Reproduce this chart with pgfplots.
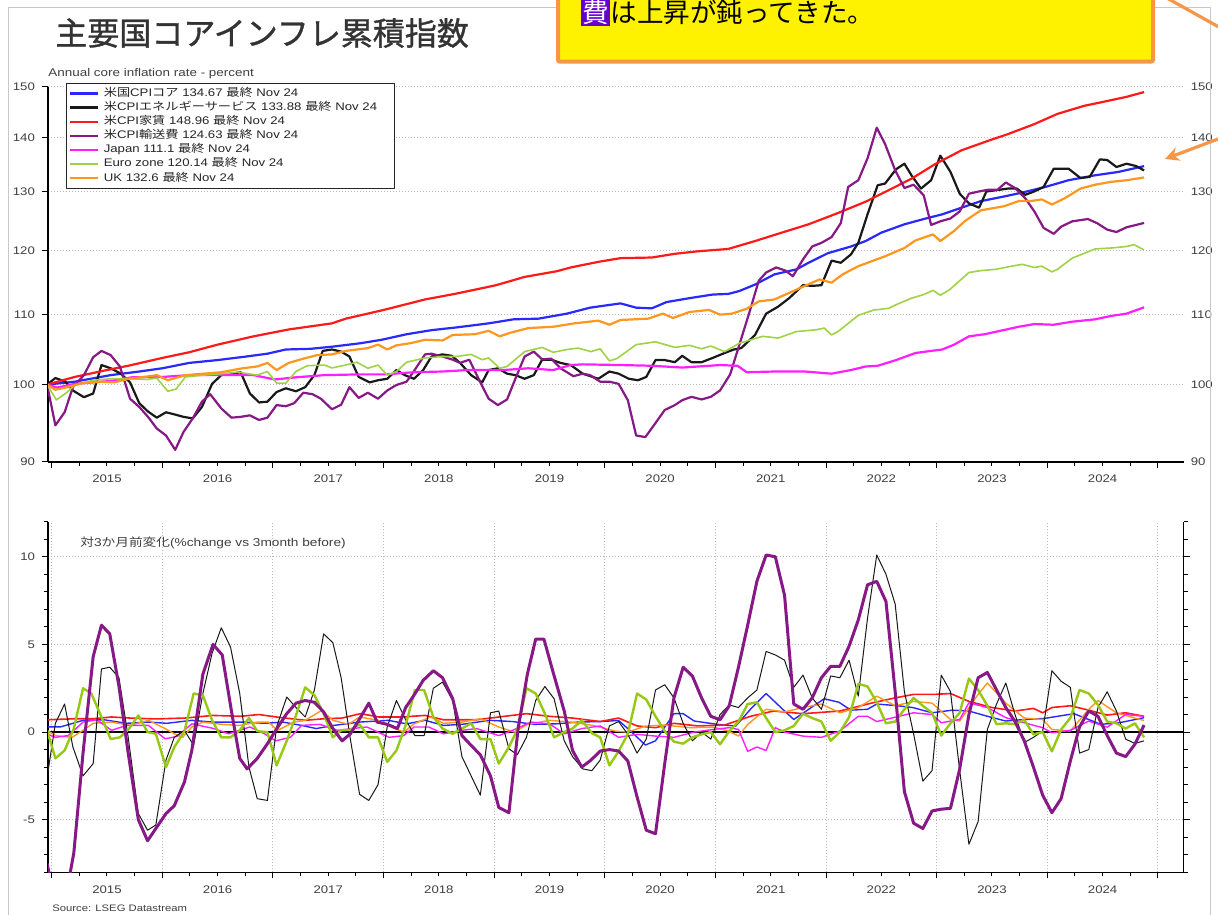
\documentclass[border=0pt]{standalone}
\usepackage{pgfplots}
\pgfplotsset{compat=1.18}
\usepackage{graphicx}
\usepackage{fontspec}
\setmainfont{Liberation Sans}
\newfontfamily\jp{Noto Sans CJK JP}
\newfontfamily\jptitle[FakeBold=1]{Noto Sans CJK JP}
\usetikzlibrary{arrows.meta}
\newcommand\sx[1]{\scalebox{1.2}[1]{#1}}
\definecolor{cBlue}{RGB}{40,40,255}
\definecolor{cBlack}{RGB}{25,25,25}
\definecolor{cRed}{RGB}{255,25,25}
\definecolor{cPurple}{RGB}{135,25,135}
\definecolor{cMag}{RGB}{255,30,255}
\definecolor{cGreen}{RGB}{160,210,70}
\definecolor{cGreenB}{RGB}{150,200,20}
\definecolor{cOrange}{RGB}{255,150,30}
\definecolor{cTxt}{RGB}{64,64,64}
\definecolor{cBoxBorder}{RGB}{247,150,70}
\definecolor{cHL}{RGB}{102,0,204}
\definecolor{cFrame}{RGB}{200,200,200}
\pgfplotsset{
  base/.style={
    scale only axis, width=567.85pt,
    xmin=0.1, xmax=123.3,
    xtick={0.5,12.5,24.5,36.5,48.5,60.5,72.5,84.5,96.5,108.5,120.5},
    xticklabels={\sx{2015},\sx{2016},\sx{2017},\sx{2018},\sx{2019},\sx{2020},\sx{2021},\sx{2022},\sx{2023},\sx{2024}},
    x tick label as interval,
    minor x tick num=3,
    tick align=outside,
    major tick length=3pt, minor tick length=2pt,
    tick style={black, line width=0.5pt},
    axis line style={black, line width=0.7pt},
    tick label style={font=\fontsize{5.5}{6}\selectfont, text=cTxt},
    major grid style={gray!55, dash pattern=on 0.5pt off 1pt, line width=0.5pt},
    line join=round,
  },
}
\begin{document}
\begin{tikzpicture}
\useasboundingbox (0,0) rectangle (609pt,-457pt);
\clip (0,0) rectangle (609pt,-457pt);
\fill[white] (0,0) rectangle (609pt,-457pt);

% ---------------- top chart ----------------
\begin{axis}[base,
  at={(24pt,-231pt)}, anchor=south west, height=187.5pt,
  ymode=log, ymin=90, ymax=150,
  axis x line*=bottom, axis y line*=left,
  ytick={90,100,110,120,130,140,150},
  yticklabels={\sx{90},\sx{100},\sx{110},\sx{120},\sx{130},\sx{140},\sx{150}},
  ymajorgrids,
  legend image code/.code={\draw[#1] (0pt,0pt) -- (13.8pt,0pt);},
  legend cell align=left,
  legend style={at={(0.01585,1.0115)}, anchor=north west, draw=black!85, line width=0.6pt,
    fill=white, inner xsep=1.35pt, inner ysep=1.6pt, column sep=1.35pt, row sep=0pt,
    font=\fontsize{5.5}{6}\selectfont,
    nodes={inner xsep=1pt, inner ysep=0.825pt, text height=4.2pt, text depth=1.2pt, text=black!85}},
]
\addplot[cBlue, line width=1.1pt] coordinates {(0,100) (3,100.4) (6.9,101.3) (10,101.8) (12.5,102.25) (15.4,103.0) (18.5,103.4) (21.6,103.9) (23.9,104.3) (25.9,104.9) (28.6,105.0) (30.9,105.3) (34,105.8) (36.3,106.3) (39,107.1) (41.7,107.7) (44.4,108.1) (47.9,108.7) (50.6,109.3) (53.3,109.4) (56.4,110.15) (58.9,111.05) (62.2,111.7) (63.9,111.05) (65.6,110.95) (67.2,111.9) (69.7,112.5) (72.2,113.05) (73.9,113.15) (75.1,113.6) (76.8,114.6) (78.9,116.2) (81.3,117.0) (82.6,118.05) (84.7,119.6) (87.2,120.7) (88.8,121.6) (90.5,123.0) (93,124.4) (95.1,125.3) (97.1,126.1) (99.2,127.25) (101.3,128.4) (103.8,129.2) (105.8,129.9) (108.3,130.9) (110.8,132.1) (113.7,133.0) (116.2,133.6) (119,134.67)};
\addlegendentry{\makebox[143pt][l]{\sx{{\jp 米国}CPI{\jp コア} 134.67 {\jp 最終} Nov 24}}}
\addplot[cBlack, line width=1.1pt] coordinates {(0,100) (0.9,100.9) (2,100.4) (2.8,99.2) (4,98.3) (5,98.8) (5.9,102.7) (6.9,102.25) (8,101.5) (9,100.3) (10,97.5) (10.95,96.4) (11.9,95.6) (12.9,96.3) (13.9,96.0) (14.8,95.7) (15.8,95.5) (16.8,97.0) (17.9,100.1) (18.9,101.3) (20,101.5) (21,101.7) (22,98.8) (23,97.6) (23.9,97.7) (24.9,99.0) (25.9,99.5) (27,99.1) (28,99.65) (29,101.3) (29.9,104.7) (30.9,104.9) (31.9,104.6) (32.8,103.9) (33.8,101.05) (35,100.3) (35.9,100.6) (36.9,100.8) (37.9,102.0) (38.8,101.3) (39.8,100.8) (40.8,102.0) (41.7,103.9) (42.9,104.2) (43.9,104.0) (44.8,103.0) (46,101.3) (47.2,100.3) (47.9,102.0) (48.9,102.25) (49.9,101.5) (50.8,101.3) (51.8,100.8) (52.8,101.3) (53.7,103.45) (54.7,103.45) (55.7,103.0) (56.8,102.7) (58.1,101.5) (59.8,100.8) (61,101.8) (62,101.5) (63.1,100.8) (64.1,100.6) (65,101.05) (66,103.4) (67,103.4) (68.1,103.1) (68.9,104.0) (69.9,103.1) (71,103.1) (72.2,103.7) (73.5,104.4) (74.5,104.9) (75.3,105.1) (76.8,107.0) (78,110.15) (79.3,111.2) (80.5,112.5) (82,114.5) (83,114.4) (84,114.5) (85.1,118.4) (86.1,118.05) (87.2,119.4) (88,121.3) (89,126.1) (90.1,131.2) (90.9,131.5) (92.1,134.1) (93,135.1) (93.8,132.9) (94.8,130.6) (95.9,132.1) (96.9,136.6) (98,133.6) (99,129.7) (100,128.0) (101.1,127.25) (101.9,130.1) (102.9,130.3) (104.2,130.6) (105.2,130.6) (106.1,129.5) (107.1,130.1) (108.1,130.9) (109.2,134.2) (110.8,134.2) (112.1,132.5) (113.1,132.7) (114.2,135.9) (115,135.8) (116,134.5) (117.1,135.1) (118.1,134.7) (119,133.88)};
\addlegendentry{\sx{{\jp 米}CPI{\jp エネルギーサービス} 133.88 {\jp 最終} Nov 24}}
\addplot[cRed, line width=1.1pt] coordinates {(0,100) (3,101.05) (6.1,101.9) (8.8,102.6) (12.5,103.7) (15.4,104.5) (18.5,105.6) (22.4,106.8) (26.2,107.8) (30.9,108.7) (32.4,109.4) (36.5,110.7) (41,112.3) (44.4,113.2) (48.7,114.5) (51.8,115.8) (55.3,116.7) (56.8,117.3) (59.8,118.2) (62.2,118.8) (65.6,118.9) (68.1,119.5) (70.5,119.9) (73.9,120.3) (76.8,121.6) (79.7,123.0) (82.6,124.4) (85.9,126.4) (88.8,128.3) (90.9,130.0) (93.8,132.4) (96.3,135.0) (99.2,137.6) (102.1,139.4) (104.2,140.65) (107.1,142.6) (109.6,144.6) (112.5,146.2) (114.6,147.0) (117.1,148.0) (119,148.96)};
\addlegendentry{\sx{{\jp 米}CPI{\jp 家賃} 148.96 {\jp 最終} Nov 24}}
\addplot[cPurple, line width=1.1pt] coordinates {(0,100) (0.9,94.6) (1.9,96.3) (2.8,99.65) (4,101.3) (5,103.8) (5.9,104.7) (6.9,104.1) (7.9,102.5) (9,98.1) (10,97.0) (10.95,95.7) (11.9,94.2) (12.9,93.3) (13.9,91.5) (14.8,93.75) (15.8,95.5) (16.8,97.7) (17.7,98.7) (18.9,96.8) (20,95.6) (21,95.7) (22,95.9) (23,95.3) (23.9,95.6) (24.9,97.25) (25.9,97.1) (26.8,97.5) (27.8,98.9) (28.8,98.7) (29.7,98.1) (30.9,96.7) (31.9,97.3) (32.8,99.65) (33.8,98.2) (34.8,98.9) (35.9,98.1) (36.9,99.2) (37.9,99.95) (39,100.4) (40,102.25) (41,104.2) (41.7,104.3) (42.9,103.9) (44,103.45) (44.8,103.0) (45.8,103.45) (47,100.3) (47.9,98.1) (48.9,97.25) (49.9,98.0) (50.8,100.8) (51.8,103.9) (52.8,104.6) (53.7,103.5) (54.7,103.6) (55.7,102.25) (57.1,101.15) (58.1,101.5) (58.9,101.3) (60,100.4) (61,100.4) (62,100.1) (63,97.9) (63.9,93.3) (64.9,93.1) (66,94.9) (67,96.6) (68.1,97.25) (68.9,97.9) (69.9,98.35) (71,98.0) (72,98.35) (73,99.2) (74.1,101.4) (75.1,105.6) (76.2,110.4) (77.2,115.2) (78,116.5) (79.1,117.3) (80.1,116.8) (80.9,115.9) (82,118.6) (83,120.7) (84,121.3) (85.1,122.25) (86.1,124.6) (86.9,130.9) (88,132.1) (89,136.1) (90,141.9) (90.9,138.8) (92,133.9) (93,130.7) (94,131.3) (95.1,129.4) (95.9,124.3) (96.9,124.9) (98,125.4) (99,126.6) (100,129.7) (101.1,130.1) (102.1,130.4) (103.1,130.4) (104,131.7) (105,130.7) (106.1,128.9) (107.1,126.6) (108.1,123.8) (109.2,122.8) (110,124.0) (111.2,124.9) (112.9,125.3) (113.9,124.6) (115,123.5) (116,123.1) (117.1,123.9) (119,124.63)};
\addlegendentry{\sx{{\jp 米}CPI{\jp 輸送費} 124.63 {\jp 最終} Nov 24}}
\addplot[cMag, line width=1.1pt] coordinates {(0,100) (1.1,99.6) (3,100.1) (5,100.3) (6.9,100.5) (9.2,101.0) (12.5,101.05) (15.4,101.3) (18.5,101.3) (22.4,101.3) (24.7,100.7) (27,101.0) (30.1,101.3) (34,101.4) (36.7,101.4) (39.8,101.7) (42.9,101.8) (45.6,102.0) (49.5,102.0) (52.2,102.25) (54.9,102.0) (56.8,102.7) (58.1,102.8) (62.2,102.7) (65.6,102.6) (68.9,102.35) (73,102.7) (74.9,102.6) (75.9,101.7) (78.9,101.8) (82.2,101.8) (85.1,101.5) (87.2,102.0) (88.8,102.5) (90.1,102.6) (92.1,103.4) (94.2,104.4) (95.9,104.7) (97.1,104.9) (98.4,105.6) (100,106.8) (101.7,107.1) (103.4,107.6) (105.4,108.2) (107.1,108.6) (109.2,108.5) (111.2,108.95) (113.7,109.3) (115.4,109.8) (117.1,110.15) (119,111.1)};
\addlegendentry{\sx{Japan 111.1 {\jp 最終} Nov 24}}
\addplot[cGreen, line width=0.8pt] coordinates {(0,100) (1,97.95) (2,98.8) (3,99.9) (5,100.6) (6.9,100.8) (8.8,100.8) (10.8,100.7) (11.9,100.9) (13.1,99.1) (14,99.4) (15,101.05) (17,101.3) (18.9,101.5) (20.8,101.7) (22.8,101.3) (23.9,101.8) (24.9,100.2) (25.9,100.2) (27,101.8) (28.2,102.6) (30.1,102.7) (30.9,102.3) (32.4,102.7) (33.6,103.1) (34.8,102.25) (35.9,102.7) (36.9,101.3) (37.9,101.8) (39,103.1) (41,103.7) (42.9,103.9) (44.4,103.9) (46,104.2) (47.2,103.45) (47.9,103.7) (49.1,102.25) (49.9,102.5) (51.8,104.6) (53.7,105.2) (54.9,104.5) (56.4,104.9) (57.6,105.1) (59,104.6) (60,105.0) (61,103.3) (61.8,103.6) (63.9,105.6) (66,106.0) (68.1,105.2) (69.7,105.5) (71,105.0) (72,105.4) (73.5,104.6) (75.1,105.8) (77.6,106.8) (79.3,106.55) (81.3,107.5) (83.4,107.75) (84.3,108.0) (85.1,107.0) (85.9,107.6) (88,109.9) (89.7,110.7) (91.3,110.95) (92.1,111.5) (93.8,112.5) (95.1,113.05) (96.1,113.7) (96.9,112.95) (97.9,113.8) (100,116.5) (101.3,116.8) (102.9,117.0) (104.6,117.5) (105.8,117.8) (107.1,117.3) (107.9,117.5) (109,116.6) (109.6,117.0) (111.2,118.8) (113.7,120.3) (115.4,120.45) (117.1,120.7) (117.9,121.0) (119,120.14)};
\addlegendentry{\sx{Euro zone 120.14 {\jp 最終} Nov 24}}
\addplot[cOrange, line width=1.1pt] coordinates {(0,100) (0.9,99.3) (2.2,99.65) (3.8,100.2) (5.7,100.4) (7.3,100.3) (8.8,100.8) (10.8,101.1) (11.9,101.3) (13.1,100.6) (15,101.3) (17,101.5) (18.9,101.7) (21.2,102.25) (22.8,102.5) (23.9,103.0) (24.9,102.0) (26.2,103.0) (27.8,103.6) (29.3,104.1) (30.9,104.2) (32.4,104.7) (34.8,105.1) (35.9,105.6) (36.9,104.9) (37.9,105.5) (39.4,105.8) (41,106.3) (42.9,106.2) (44,107.0) (46.4,107.1) (47.9,107.6) (49.1,106.8) (50.2,107.3) (52.2,108.0) (54.9,108.2) (57.2,108.7) (59.8,109.1) (61,108.5) (62.2,109.2) (65.2,109.4) (66.8,110.15) (67.9,109.5) (69.7,110.4) (71.8,110.7) (73,110.0) (74.3,110.15) (75.9,110.9) (77.2,112.0) (78.9,112.3) (80.5,113.3) (82.2,114.4) (83.8,115.4) (85.1,114.9) (86.3,116.2) (88,117.5) (90.9,119.1) (93,120.45) (94.2,121.7) (96.1,122.7) (96.9,121.6) (98.4,123.3) (99.6,125.0) (101.3,126.8) (103.8,127.5) (105.4,128.4) (106.7,128.4) (107.9,128.7) (109,127.8) (110.4,128.9) (112.1,130.6) (113.7,131.3) (115.4,131.8) (117.1,132.1) (119,132.6)};
\addlegendentry{\sx{UK 132.6 {\jp 最終} Nov 24}}
\end{axis}

% right-hand labels of the top chart
\begin{axis}[
  at={(24pt,-231pt)}, anchor=south west,
  scale only axis, width=567.85pt, height=187.5pt,
  xmin=0.1, xmax=123.3, ymode=log, ymin=90, ymax=150,
  axis x line=none, axis y line*=right, y axis line style={draw=none},
  ytick={90,100,110,120,130,140,150},
  yticklabels={\sx{90},\sx{100},\sx{110},\sx{120},\sx{130},\sx{140},\sx{150}},
  ytick style={draw=none},
  yticklabel style={font=\fontsize{5.5}{6}\selectfont, text=cTxt},
]
\end{axis}

% ---------------- bottom chart ----------------
\begin{axis}[base,
  at={(24pt,-436.15pt)}, anchor=south west, height=175.3pt,
  ymin=-8, ymax=12,
  axis x line*=bottom, axis y line*=box,
  ytick={-5,0,5,10},
  yticklabels={\sx{-5},\sx{0},\sx{5},\sx{10}},
  minor ytick={-8,-7,...,12},
  xmajorgrids, ymajorgrids,
]
\draw[black, line width=0.6pt] (axis cs:0.1,0) -- (axis cs:123.3,0);
\addplot[cBlue, line width=0.7pt] coordinates {(0,0.3) (1.5,0.3) (3.9,0.67) (6.2,0.7) (8.6,0.5) (11,0.57) (13,0.5) (15.7,0.67) (18,0.57) (21.3,0.57) (23.6,0.5) (25.6,0.57) (27.6,0.38) (29.2,0.2) (31.1,0.38) (33.9,0.57) (37,0.67) (39,0.47) (41,0.67) (43,0.38) (45,0.44) (48,0.67) (50.5,0.6) (52.9,0.44) (55.2,0.47) (57.6,0.57) (60,0.6) (62,0.66) (63.3,0.06) (64.9,-0.74) (66,-0.5) (68,1.05) (69,1.05) (70.2,0.63) (72.7,0.44) (74.7,0.34) (76.3,1.3) (78,2.2) (79.6,1.4) (81,0.72) (82.9,1.4) (84.3,1.9) (85.9,1.7) (87.2,1.25) (89,1.3) (90,1.6) (92.3,1.5) (93.9,1.4) (96,1.1) (98.2,1.25) (100,1.2) (102,0.9) (104,0.63) (106.1,0.72) (108.2,0.78) (111.4,1.05) (114.3,0.44) (116.3,0.53) (119,0.82)};
\addplot[cRed, line width=0.8pt] coordinates {(0,0.7) (3,0.76) (5,0.76) (7,0.86) (9,0.8) (11.8,0.75) (15,0.8) (18,0.95) (21,0.9) (23,1.0) (25,0.85) (28,0.67) (30,0.76) (32,0.8) (34,1.05) (36,0.86) (38.5,0.86) (41,0.95) (43,0.7) (46.6,0.7) (49,0.86) (52,1.05) (54.5,0.9) (57,0.8) (60,0.6) (62,0.8) (64,0.35) (66,0.25) (68,0.5) (70.6,0.35) (73.5,0.4) (76.3,0.9) (78.8,1.2) (82,1.05) (86,1.2) (89.4,1.65) (92,1.95) (94,2.15) (96.3,2.15) (98,2.2) (100,1.75) (102.5,1.4) (105,1.2) (107,1.35) (108,1.1) (109,1.4) (111,1.5) (113,1.25) (115,0.97) (117,1.1) (119,0.9)};
\addplot[cOrange, line width=0.7pt] coordinates {(0,0.1) (0.9,-0.2) (2.7,-0.3) (3.9,0.1) (5,0.5) (7,0.57) (9,0.38) (11,0.67) (12.8,0.2) (13.8,-0.1) (14.7,-0.3) (15.7,0.29) (16.9,0.57) (18.9,0.44) (20.9,0.38) (22.8,0.57) (24,0.57) (25,0.1) (26.8,0.57) (28,0.67) (29.8,1.24) (31,0.67) (32.7,0.44) (33.9,0.86) (35.9,0.67) (37.7,0.2) (38.7,0) (39.8,0.47) (41.6,0.86) (43,0.5) (45,0.57) (47,0.76) (49,0.29) (50.7,0) (52.1,0.44) (54.5,0.67) (56.8,0.57) (59.2,0.38) (61.6,0.06) (63,0) (64.9,0.34) (67,0.4) (69.8,0.25) (72.3,0.28) (73.9,0.06) (75,-0.23) (76,0.44) (78,1.3) (80,1.15) (82,1.4) (84,1.6) (86,1.1) (88,1.4) (90,2.05) (92,1.5) (94,1.75) (96,1.65) (98,0.72) (99,0.63) (101,2.15) (102,2.8) (104,1.65) (106,0.8) (108,0.72) (109,0.15) (111,0.06) (113,1.3) (114,1.8) (116,1.1) (118,0.8) (119,0.66)};
\addplot[cMag, line width=0.7pt] coordinates {(0,-0.1) (0.9,-0.3) (2.3,-0.2) (3.9,0.57) (5.4,0.7) (7,0.1) (8.6,0.38) (11,0.38) (12.8,-0.38) (14.1,-0.25) (15.7,0.47) (18.1,0.2) (19.7,-0.1) (22,0.29) (23.6,-0.1) (24.8,-0.5) (26.4,-0.3) (27.6,0.38) (29.6,0.44) (31.5,0.1) (33.1,0.2) (34.7,0.29) (37.1,-0.3) (38.7,-0.2) (39.8,0.29) (41.4,0.29) (43,-0.1) (45,0.1) (46.6,0.2) (49,-0.2) (50.5,0.1) (52.5,0.57) (54.5,0.47) (56.1,-0.1) (58,0.2) (60,0.35) (62,-0.3) (64,-0.13) (66,-0.23) (68,-0.3) (70.2,0) (72.3,0.15) (74,0.25) (75,0.15) (76,-1.1) (77,-0.85) (78,-1.05) (79,0.25) (80,0) (82,-0.23) (84,-0.3) (86,0.06) (88,0.9) (89,0.9) (90,0.6) (92,0.85) (94,1.1) (96,1.0) (97,0.53) (99,0.72) (100,1.67) (102,1.4) (104,0.82) (106,0.53) (108,0.25) (109,-0.04) (111,0.1) (113,0.63) (115,0.28) (117,1.0) (119,0.9)};
\addplot[cBlack, line width=0.5pt] coordinates {(0,-2.6) (0.9,0.5) (1.9,1.6) (2.8,-0.85) (3.9,-2.5) (5,-1.8) (5.9,3.6) (6.8,3.7) (7.8,3.1) (8.8,-0.3) (9.9,-4.65) (10.9,-5.6) (11.8,-5.3) (12.9,-1.6) (13.8,-0.3) (14.9,0.1) (15.9,-0.76) (16.9,2.2) (17.9,4.5) (18.9,5.95) (19.9,4.85) (20.9,2.2) (21.9,-2.0) (22.8,-3.8) (23.9,-3.9) (24.9,0.3) (26,2.0) (27,1.4) (28,0.86) (29,2.4) (30,5.6) (31,5.1) (31.9,3.1) (32.9,-0.4) (33.9,-3.55) (34.9,-3.9) (35.9,-3.0) (36.9,0.3) (37.9,1.8) (38.9,0.7) (39.9,-0.2) (40.9,-0.2) (41.9,2.5) (42.9,2.85) (44,1.8) (45,-1.4) (46,-2.5) (47,-3.6) (48.1,1.1) (49,1.2) (50.1,-0.95) (51,-1.3) (52,-0.3) (53,1.8) (54,2.6) (55,1.9) (56.1,-0.5) (57,-1.4) (58.1,-2.1) (59.1,-2.2) (60,-1.6) (61,0.35) (62,0.6) (63,-0.13) (64,-1.2) (65,-0.4) (66,2.4) (67,2.7) (68,1.95) (69,0.5) (70,-0.5) (71,0) (72,-0.4) (73,1.0) (74,1.55) (75,1.4) (76,1.95) (77,2.4) (78,4.6) (79,4.4) (80,4.1) (81,2.55) (82,3.25) (83,1.95) (84,1.3) (85,3.2) (86,3.1) (87,4.1) (88,2.05) (89,6.5) (90,10.1) (91,9.0) (92,7.3) (93,2.3) (94,-0.1) (95,-2.8) (96,-2.2) (97,3.25) (98,2.3) (99,-2.2) (100,-6.4) (101,-5.1) (102,0.15) (103,1.6) (104,2.8) (105,1.0) (106,-0.6) (107,-0.3) (108,0.05) (109,3.5) (110,2.9) (111,2.55) (112,-1.2) (113,-1.0) (114,1.4) (115,2.3) (116,1.2) (117,-0.4) (118,-0.65) (119,-0.5)};
\addplot[cGreenB, line width=1.2pt] coordinates {(0,0.1) (0.9,-1.5) (1.9,-1.05) (2.9,0.2) (3.9,2.5) (4.8,2.2) (5.9,0.86) (6.9,-0.4) (7.9,-0.3) (8.9,0.2) (9.9,0.95) (10.9,0) (11.8,-0.1) (12.9,-2.0) (13.8,-0.86) (14.9,0.05) (15.9,2.2) (16.9,2.1) (17.9,0.67) (18.9,-0.3) (19.9,-0.3) (20.9,0.1) (21.9,0.8) (22.8,0.05) (23.9,0) (24.9,-1.9) (26,-0.5) (27,0.95) (28,2.55) (29,2.1) (30,1.05) (31,-0.3) (31.9,0.1) (32.9,0.13) (33.9,0.44) (34.9,-0.3) (35.9,-0.3) (36.9,-1.7) (37.9,-1.05) (38.9,0.4) (39.9,2.4) (40.9,2.4) (41.9,0.86) (42.9,0.2) (44,-0.1) (45,0.2) (46,0.5) (47,-0.4) (48.1,-0.4) (49,-1.8) (50.1,-0.86) (51,0.13) (52,2.5) (53,2.2) (54,1.05) (55,-0.3) (56.1,0) (57,0.2) (58,0.67) (59.1,-0.06) (60,-0.3) (61,-1.9) (62,-1.1) (63,-0.1) (64,2.2) (65,1.85) (66,0.9) (67,0.05) (68,-0.55) (69,-0.66) (70,-0.3) (71,-0.13) (72,0) (73,-0.7) (74,0.05) (75,0.6) (76,1.6) (77,1.7) (78,0.8) (79,0) (80,0.1) (81,0.35) (82,1.05) (83,0.8) (84,0.6) (85,-0.5) (86,0) (87,0.85) (88,2.75) (89,2.6) (90,1.7) (91,0.5) (92,0.6) (93,1.3) (94,1.95) (95,1.5) (96,1.1) (97,-0.2) (98,0.5) (99,1.1) (100,3.05) (101,2.4) (102,1.5) (103,0.45) (104,0.5) (105,0.45) (106,0.7) (107,-0.13) (108,0) (109,-1.1) (110,0.15) (111,0.8) (112,2.4) (113,2.2) (114,1.55) (115,0.6) (116,0.5) (117,0.2) (118,0.5) (119,-0.3)};
\addplot[cPurple, line width=1.5pt] coordinates {(0,-7.5) (1,-10) (2,-9.5) (2.9,-6.9) (3.9,-1.2) (5,4.3) (5.9,6.1) (6.8,5.6) (7.8,2.6) (8.8,-1.2) (9.9,-5.0) (10.9,-6.2) (11.8,-5.5) (12.9,-4.65) (13.8,-4.2) (14.9,-2.85) (15.7,-1.05) (16.9,3.3) (18,5.0) (19,4.4) (20,1.2) (20.9,-1.5) (21.7,-2.1) (22.8,-1.5) (23.9,-0.67) (24.8,0.1) (26,1.05) (27,1.65) (28,1.8) (29,1.7) (30,1.15) (31,0.2) (32,-0.5) (32.9,-0.1) (33.9,0.75) (34.9,1.65) (35.8,0.57) (36.9,0.44) (38,0.2) (38.9,1.4) (39.8,2.1) (40.8,2.95) (41.9,3.5) (42.9,3.1) (44,1.9) (45,-0.2) (46,-0.76) (47,-1.3) (48.1,-2.5) (49,-4.3) (50.1,-4.6) (51.1,0.2) (52.1,3.3) (53,5.3) (53.9,5.3) (54.9,3.4) (56.1,1.2) (57,-1.05) (58,-2.0) (59,-1.6) (60,-1.08) (61,-1.0) (62,-1.08) (63,-1.65) (64,-3.7) (65,-5.6) (66,-5.8) (67,-1.8) (68,1.95) (69,3.7) (70,3.2) (71,1.95) (72,0.9) (73,0.7) (74,1.5) (75,3.7) (76,6.1) (77,8.6) (78,10.1) (79,10.0) (80,7.8) (81,1.6) (82,1.3) (83,1.95) (84,3.1) (85,3.75) (86,3.75) (87,4.9) (88,6.4) (89,8.4) (90,8.6) (91,7.45) (92,2.3) (93,-3.4) (94,-5.2) (95,-5.5) (96,-4.5) (97,-4.4) (98,-4.35) (99,-2.1) (100,1.0) (101,3.1) (102,3.4) (103,2.4) (104,1.4) (105,0.6) (106,-0.5) (107,-2.0) (108,-3.6) (109,-4.6) (110,-3.8) (111,-1.65) (112,0.3) (113,1.2) (114,0.9) (115,-0.2) (116,-1.2) (117,-1.4) (118,-0.7) (119,0.4)};
\end{axis}

% ---------------- annotations ----------------
\begin{scope}[x=0.5pt,y=-0.5pt]
\draw[cFrame, line width=0.5pt] (8,920) -- (8,8) -- (1210,8) -- (1210,920);
\node[anchor=west, inner sep=0, text=black!80, font=\jptitle\fontsize{16}{16}\selectfont] at (55,33) {主要国コアインフレ累積指数};
\fill[yellow] (558,-20) rectangle (1153,61.7);
\draw[cBoxBorder, line width=2pt, rounded corners=1pt] (558,-20) rectangle (1153,61.7);
\node[anchor=base west, inner sep=0, font=\jp\fontsize{13.3}{13.3}\selectfont, text=black] at (581,23) {\setlength{\fboxsep}{0.6pt}\colorbox{cHL}{\textcolor{white}{費}}は上昇が鈍ってきた。};
\draw[cBoxBorder, line width=1.6pt, -{Stealth[length=7pt,width=7pt]}] (1226,136) -- (1165,159);
\draw[cBoxBorder, line width=1.6pt] (1165,-3) -- (1226,31);
\node[anchor=west, inner sep=0, text=cTxt, font=\fontsize{5.6}{6}\selectfont] at (48,74) {\sx{Annual core inflation rate - percent}};
\node[anchor=west, inner sep=0, text=cTxt, font=\fontsize{5.7}{6}\selectfont] at (80,543) {\sx{{\jp 対}3{\jp か月前変化}(\%change vs 3month before)}};
\node[anchor=west, inner sep=0, text=cTxt, font=\fontsize{4.7}{5}\selectfont] at (52,908) {\sx{Source: LSEG Datastream}};
\end{scope}
\end{tikzpicture}
\end{document}
